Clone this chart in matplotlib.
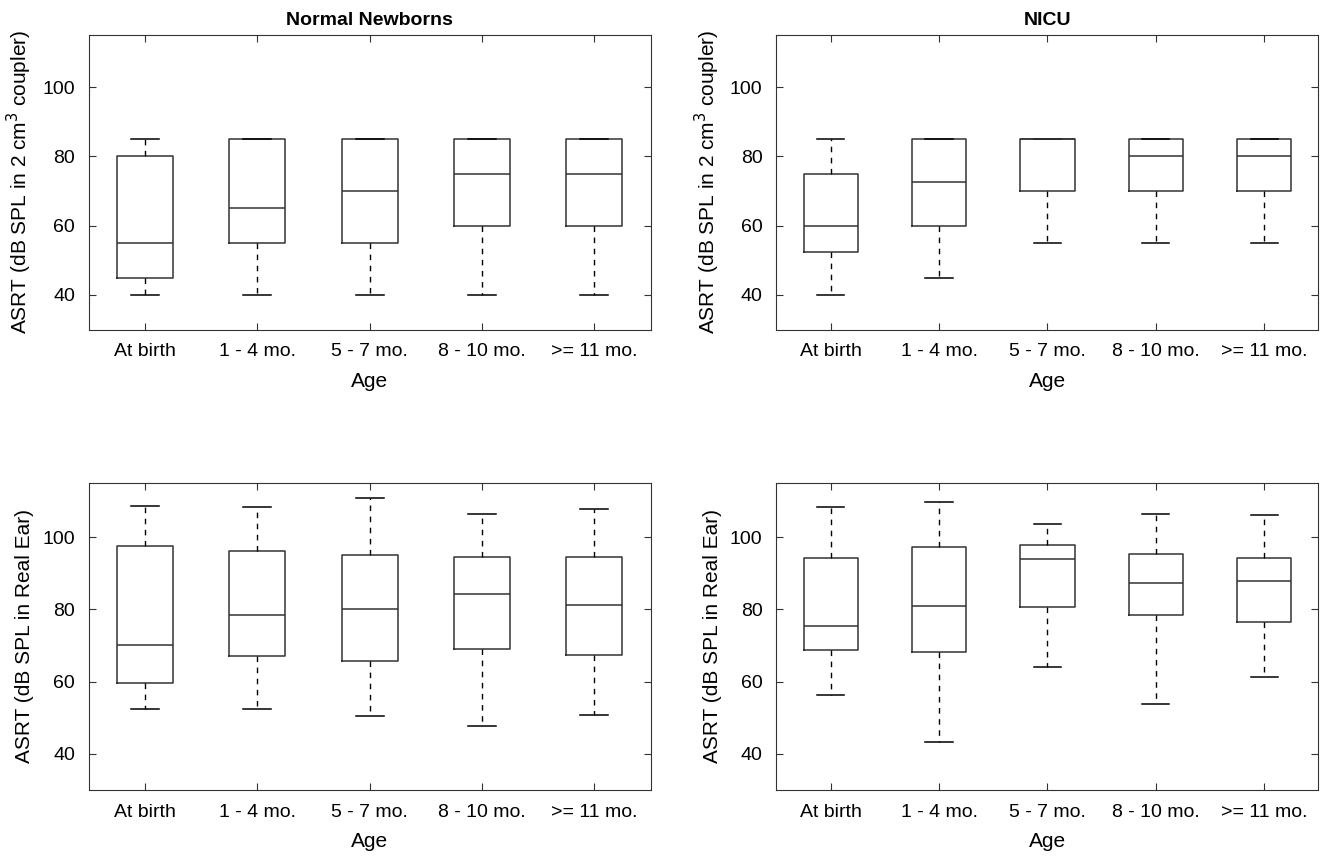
import matplotlib.pyplot as plt

plt.rcParams['font.family'] = ['Liberation Sans Narrow', 'Liberation Sans', 'DejaVu Sans']

ages = ["At birth", "1 - 4 mo.", "5 - 7 mo.", "8 - 10 mo.", ">= 11 mo."]

# box stats per age group: whisker low, Q1, median, Q3, whisker high
normal_coupler_lo = [40, 40, 40, 40, 40]
normal_coupler_q1 = [45, 55, 55, 60, 60]
normal_coupler_med = [55, 65, 70, 75, 75]
normal_coupler_q3 = [80, 85, 85, 85, 85]
normal_coupler_hi = [85, 85, 85, 85, 85]

nicu_coupler_lo = [40, 45, 55, 55, 55]
nicu_coupler_q1 = [52.5, 60, 70, 70, 70]
nicu_coupler_med = [60, 72.5, 85, 80, 80]
nicu_coupler_q3 = [75, 85, 85, 85, 85]
nicu_coupler_hi = [85, 85, 85, 85, 85]

normal_ear_lo = [52.5, 52.3, 50.4, 47.8, 50.8]
normal_ear_q1 = [59.7, 67.1, 65.8, 68.9, 67.3]
normal_ear_med = [70.0, 78.5, 80.0, 84.2, 81.2]
normal_ear_q3 = [97.6, 96.0, 94.9, 94.6, 94.4]
normal_ear_hi = [108.6, 108.3, 110.7, 106.3, 107.8]

nicu_ear_lo = [56.2, 43.4, 64.1, 53.8, 61.4]
nicu_ear_q1 = [68.7, 68.2, 80.6, 78.4, 76.5]
nicu_ear_med = [75.3, 81.0, 94.0, 87.4, 87.7]
nicu_ear_q3 = [94.1, 97.3, 97.7, 95.2, 94.3]
nicu_ear_hi = [108.4, 109.7, 103.7, 106.3, 106.0]


def make_stats(lo, q1, med, q3, hi):
    stats = []
    for i in range(len(ages)):
        stats.append({"whislo": lo[i], "q1": q1[i], "med": med[i],
                      "q3": q3[i], "whishi": hi[i], "fliers": [], "label": ages[i]})
    return stats


def draw(ax, stats, ylabel, title=None):
    ax.bxp(stats, positions=range(1, 6), widths=0.5, showfliers=False,
           boxprops=dict(color="#333333", linewidth=1.1),
           medianprops=dict(color="#333333", linewidth=1.1),
           whiskerprops=dict(color="black", linewidth=1.0, linestyle=(0, (4, 4))),
           capprops=dict(color="black", linewidth=1.1))
    ax.set_xlim(0.5, 5.5)
    ax.set_ylim(30, 115)
    ax.set_yticks([40, 60, 80, 100])
    ax.set_xticks(range(1, 6))
    ax.set_xticklabels(ages)
    ax.tick_params(direction="in", top=True, right=True, labelsize=14, length=5,
                   color="#333333", pad=10)
    for s in ax.spines.values():
        s.set_color("#333333")
    ax.set_xlabel("Age", fontsize=15, labelpad=8)
    ax.set_ylabel(ylabel, fontsize=15, labelpad=6)
    if title:
        ax.set_title(title, fontsize=14, fontweight="bold", pad=7)


fig = plt.figure(figsize=(13.25, 8.56), dpi=100)
ax1 = fig.add_axes([0.067, 0.615, 0.424, 0.344])
ax2 = fig.add_axes([0.586, 0.615, 0.409, 0.344])
ax3 = fig.add_axes([0.067, 0.077, 0.424, 0.359])
ax4 = fig.add_axes([0.586, 0.077, 0.409, 0.359])

coupler_label = "ASRT (dB SPL in 2 cm$^3$ coupler)"
ear_label = "ASRT (dB SPL in Real Ear)"

draw(ax1, make_stats(normal_coupler_lo, normal_coupler_q1, normal_coupler_med,
                     normal_coupler_q3, normal_coupler_hi), coupler_label, "Normal Newborns")
draw(ax2, make_stats(nicu_coupler_lo, nicu_coupler_q1, nicu_coupler_med,
                     nicu_coupler_q3, nicu_coupler_hi), coupler_label, "NICU")
draw(ax3, make_stats(normal_ear_lo, normal_ear_q1, normal_ear_med,
                     normal_ear_q3, normal_ear_hi), ear_label)
draw(ax4, make_stats(nicu_ear_lo, nicu_ear_q1, nicu_ear_med,
                     nicu_ear_q3, nicu_ear_hi), ear_label)

plt.savefig("out.png", dpi=100)
